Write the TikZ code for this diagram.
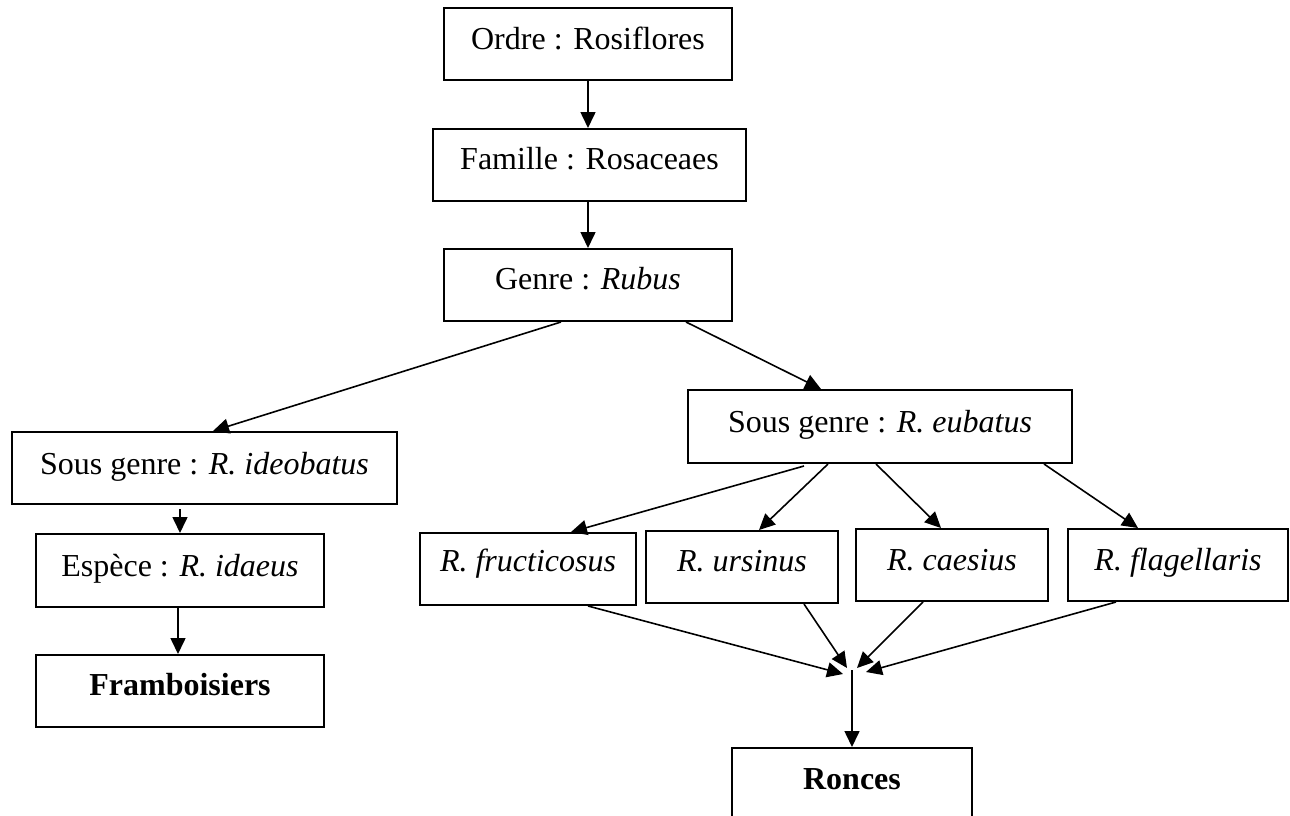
\documentclass[tikz,border=0pt]{standalone}
\usepackage{fontspec}
\setmainfont{Liberation Serif}
\usetikzlibrary{arrows.meta}
\begin{document}
\begin{tikzpicture}[x=1pt,y=-1pt,
  box/.style={draw, line width=2pt, rectangle, inner sep=0pt, anchor=north west,
    font=\fontsize{32}{38}\selectfont},
  arr/.style={line width=1.6pt, -{Triangle[length=16pt,width=15pt]}}]
\useasboundingbox (0,0) rectangle (1290,816);
\clip (0,0) rectangle (1290,816);
% boxes
\node[box, minimum width=288pt, text height=42pt, text depth=30pt] (ordre) at (443,7) {Ordre : Rosiflores};
\node[box, minimum width=313pt, text height=40pt, text depth=32pt] (famille) at (432,128) {Famille : Rosaceaes};
\node[box, minimum width=288pt, text height=40pt, text depth=32pt] (genre) at (443,248) {Genre : \textit{Rubus}};
\node[box, minimum width=385pt, text height=42pt, text depth=30pt] (ideo) at (11,431) {Sous genre : \textit{R. ideobatus}};
\node[box, minimum width=288pt, text height=42pt, text depth=31pt] (espece) at (35,533) {Espèce : \textit{R. idaeus}};
\node[box, minimum width=288pt, text height=40pt, text depth=32pt] (framb) at (35,654) {\textbf{Framboisiers}};
\node[box, minimum width=384pt, text height=42pt, text depth=31pt] (eubatus) at (687,389) {Sous genre : \textit{R. eubatus}};
\node[box, minimum width=216pt, text height=38pt, text depth=34pt] (fruct) at (419,532) {\textit{R. fructicosus}};
\node[box, minimum width=192pt, text height=40pt, text depth=32pt] (ursinus) at (645,530) {\textit{R. ursinus}};
\node[box, minimum width=192pt, text height=41pt, text depth=31pt] (caesius) at (855,528) {\textit{R. caesius}};
\node[box, minimum width=220pt, text height=41pt, text depth=31pt] (flag) at (1067,528) {\textit{R. flagellaris}};
\node[box, minimum width=240pt, text height=41pt, text depth=31pt] (ronces) at (731,747) {\textbf{Ronces}};
\coordinate (conv) at (852,670);
% connectors
\draw[arr] (ordre.south) -- (ordre.south |- famille.north);
\draw[arr] (genre.north |- famille.south) -- (genre.north);
\draw[arr] ([xshift=-27pt]genre.south) -- ([xshift=8.5pt]ideo.north);
\draw[arr] ([xshift=98pt]genre.south) -- ([xshift=-59pt]eubatus.north);
\draw[arr] ([yshift=-4pt]ideo.south -| espece.north) -- (espece.north);
\draw[arr] ([xshift=-2pt]espece.south) -- ([xshift=-2pt]framb.north);
\draw[arr] ([xshift=-76pt,yshift=-2pt]eubatus.south) -- ([xshift=43pt]fruct.north);
\draw[arr] ([xshift=-52pt]eubatus.south) -- ([xshift=17pt]ursinus.north);
\draw[arr] ([xshift=-4pt]eubatus.south) -- ([xshift=-11pt]caesius.north);
\draw[arr] ([xshift=164pt]eubatus.south) -- ([xshift=-40pt]flag.north);
\draw[arr] ([xshift=60pt]fruct.south) -- ([xshift=-9pt,yshift=-4pt]conv);
\draw[arr] ([xshift=62pt]ursinus.south) -- ([xshift=-5pt,yshift=2pt]conv);
\draw[arr] ([xshift=-29pt]caesius.south) -- ([xshift=5pt,yshift=2pt]conv);
\draw[arr] ([xshift=-62pt]flag.south) -- ([xshift=14pt,yshift=-2pt]conv);
\draw[arr] (conv) -- (ronces.north);
\end{tikzpicture}
\end{document}
